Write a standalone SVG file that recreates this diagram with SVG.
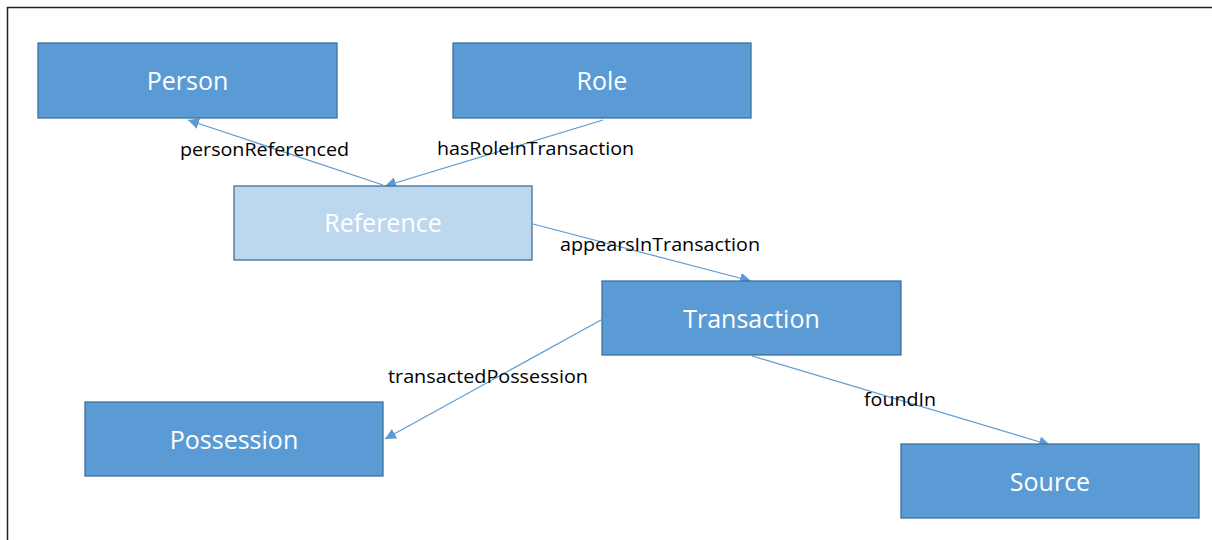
<svg xmlns="http://www.w3.org/2000/svg" width="1212" height="540" viewBox="0 0 1212 540">
  <style>
    .box { fill: #5B9BD5; stroke: #41719C; stroke-width: 1.3; }
    .box.light { fill: #BDD7EE; }
    .name { font-family: "Open Sans", "Liberation Sans", sans-serif; font-size: 25px; fill: #FFFFFF; text-anchor: middle; }
    .edge { stroke: #5B9BD5; stroke-width: 1.2; fill: none; marker-end: url(#arrow); }
    .lbl { font-family: "Open Sans", "Liberation Sans", sans-serif; font-size: 19px; fill: #000000; }
  </style>
  <defs>
    <marker id="arrow" viewBox="0 0 10 10" refX="10" refY="5" markerWidth="11" markerHeight="11" markerUnits="userSpaceOnUse" orient="auto">
      <path d="M0,0 L10,5 L0,10 Z" fill="#5B9BD5"/>
    </marker>
  </defs>
  <rect width="1212" height="540" fill="#FFFFFF"/>
  <!-- frame -->
  <path d="M7.5,540 V7.5 H1212" fill="none" stroke="#222222" stroke-width="1.5"/>

  <g id="connectors">
    <line class="edge" x1="383" y1="185" x2="188" y2="120"/>
    <line class="edge" x1="603" y1="120" x2="385" y2="186"/>
    <line class="edge" x1="533" y1="224" x2="751" y2="281"/>
    <line class="edge" x1="601" y1="320" x2="385" y2="439"/>
    <line class="edge" x1="752" y1="356" x2="1050" y2="445"/>
    <text class="lbl" x="180" y="156" textLength="169" lengthAdjust="spacingAndGlyphs">personReferenced</text>
    <text class="lbl" x="437" y="155" textLength="197" lengthAdjust="spacingAndGlyphs">hasRoleInTransaction</text>
    <text class="lbl" x="560" y="251" textLength="200" lengthAdjust="spacingAndGlyphs">appearsInTransaction</text>
    <text class="lbl" x="388" y="383" textLength="200" lengthAdjust="spacingAndGlyphs">transactedPossession</text>
    <text class="lbl" x="864" y="406" textLength="72" lengthAdjust="spacingAndGlyphs">foundIn</text>
  </g>

  <g id="person">
    <rect class="box" x="38" y="43" width="299" height="75"/>
    <text class="name" x="187.5" y="90">Person</text>
  </g>
  <g id="role">
    <rect class="box" x="453" y="43" width="298" height="75"/>
    <text class="name" x="602" y="90">Role</text>
  </g>
  <g id="reference">
    <rect class="box light" x="234" y="186" width="298" height="74"/>
    <text class="name" x="383" y="232">Reference</text>
  </g>
  <g id="transaction">
    <rect class="box" x="602" y="281" width="299" height="74"/>
    <text class="name" x="751.5" y="328">Transaction</text>
  </g>
  <g id="possession">
    <rect class="box" x="85" y="402" width="298" height="74"/>
    <text class="name" x="234" y="449">Possession</text>
  </g>
  <g id="source">
    <rect class="box" x="901" y="444" width="298" height="74"/>
    <text class="name" x="1050" y="491">Source</text>
  </g>
</svg>
